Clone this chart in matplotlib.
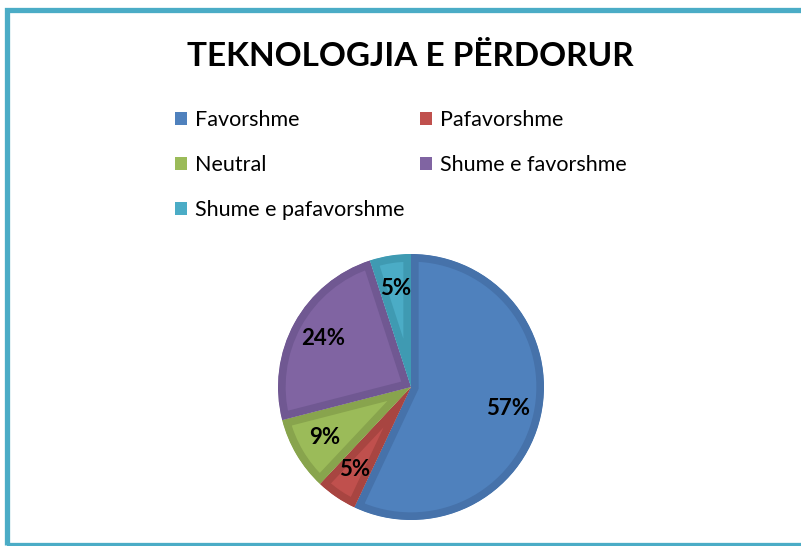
import matplotlib.pyplot as plt
from matplotlib.patches import Patch, Rectangle

labels = ['Favorshme', 'Pafavorshme', 'Neutral', 'Shume e favorshme', 'Shume e pafavorshme']
values = [57, 5, 9, 24, 5]
colors = ['#4F81BD', '#C0504D', '#9BBB59', '#8064A2', '#4BACC6']
edges = ['#4672AA', '#A84541', '#88A44D', '#705892', '#3F9AB2']

W, H = 801, 546
fig = plt.figure(figsize=(W / 100, H / 100), dpi=100)

# frame (no right edge in the reference)
fig.add_artist(Rectangle((6.5 / W, 1.5 / H), 900 / W, 534.5 / H, transform=fig.transFigure,
                         fill=False, edgecolor='#4BACC6', linewidth=3.8))

fig.text(410 / W, 1 - 56 / H, 'TEKNOLOGJIA E PËRDORUR', ha='center', va='center',
         fontsize=24, fontweight='bold', family='Lato')

# pie, center ~ (411, 387), radius ~133 px
r = 133
cx, cy = 411, 387
ax = fig.add_axes([(cx - r) / W, (H - cy - r) / H, 2 * r / W, 2 * r / H])
wedges, texts, autotexts = ax.pie(values, colors=colors, startangle=90, counterclock=False,
                                  autopct='%1.0f%%', pctdistance=0.75, radius=1,
                                  textprops=dict(fontsize=16, fontweight='bold', family='Lato'))
for w, ec in zip(wedges, edges):
    # darker inner band, like the office "bevel" look
    w.set_edgecolor(ec)
    w.set_linewidth(11)
    w.set_clip_on(True)
    w.set_clip_path(w)
ax.set_xlim(-1, 1)
ax.set_ylim(-1, 1)
ax.axis('off')

# legend, row-wise order like the reference
handles = [Patch(facecolor=c, edgecolor='none') for c in colors]
order = [0, 2, 4, 1, 3]
fig.legend([handles[i] for i in order], [labels[i] for i in order], ncol=2,
           loc='upper left', bbox_to_anchor=(164 / W, 1 - 99 / H), frameon=False,
           prop=dict(family='Lato', size=15.5), handlelength=0.56, handleheight=0.56,
           handletextpad=0.37, labelspacing=1.17, columnspacing=0.75, borderpad=0)

fig.savefig('out.png', dpi=100)
